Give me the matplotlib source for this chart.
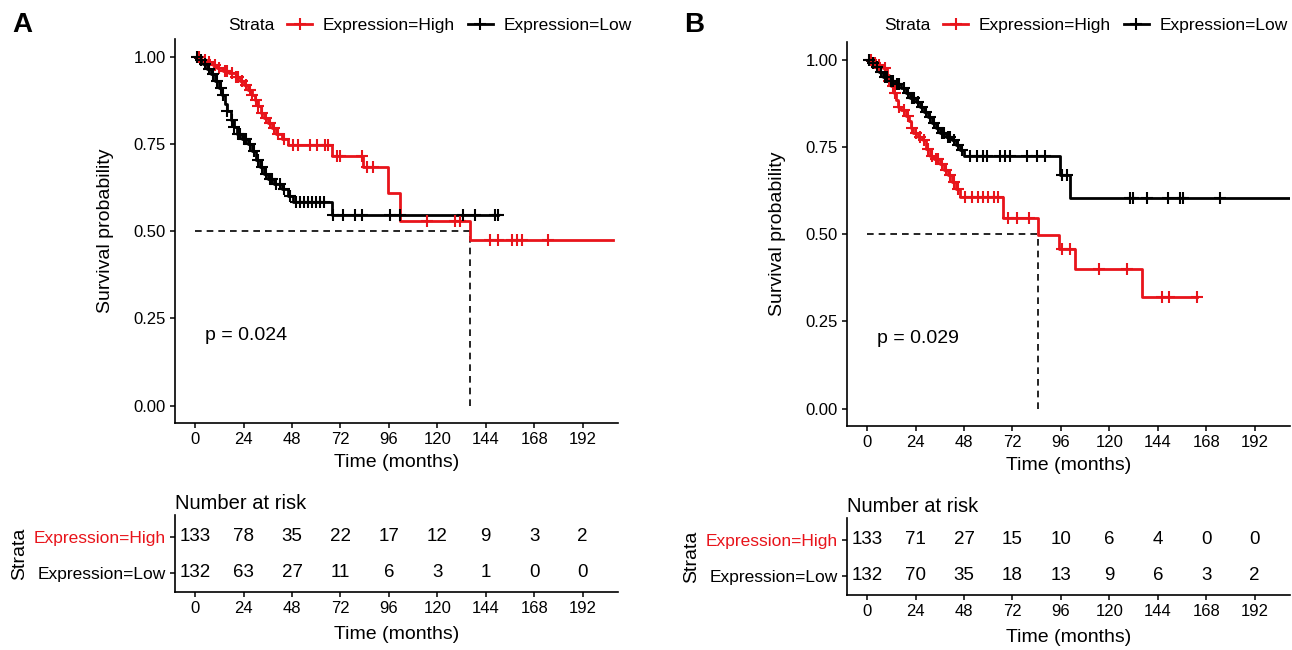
import numpy as np
import matplotlib.pyplot as plt
from matplotlib.lines import Line2D

plt.rcParams['font.family'] = ['Liberation Sans', 'DejaVu Sans']

RED = '#E8141B'
BLACK = '#000000'

time_ticks = [0, 24, 48, 72, 96, 120, 144, 168, 192]
surv_ticks = [0.00, 0.25, 0.50, 0.75, 1.00]
group_labels = ['Expression=High', 'Expression=Low']

# ---- panel A ----
a_high_t = [0, 3, 6, 9, 11, 14, 17, 20, 22, 24, 26, 28, 29.5, 31, 32.5, 34, 36, 38, 40, 43, 46,
            68, 83, 95.5, 101.5, 136]
a_high_s = [1.0, 0.992, 0.984, 0.975, 0.967, 0.96, 0.953, 0.943, 0.93, 0.92, 0.905, 0.89, 0.875,
            0.86, 0.84, 0.825, 0.81, 0.795, 0.78, 0.765, 0.747, 0.716, 0.685, 0.609, 0.53, 0.474]
a_high_end = 207
a_high_cens = [2, 5, 7, 10, 12, 15, 16, 18, 20, 21, 23, 25, 27, 28, 30, 31, 33, 35, 37, 39, 41, 44,
               48.5, 51, 57, 60.4, 64.4, 65.9, 70.3, 71.8, 82.7, 85.2, 88.2, 115, 128.8, 131.3,
               146, 150, 157, 159.5, 162, 175]

a_low_t = [0, 2, 4, 6, 8, 10, 12, 13.5, 15, 16, 17.5, 19, 20.5, 23, 26, 28, 30, 32, 34, 36, 39,
           43, 46, 48.5, 68]
a_low_s = [1.0, 0.99, 0.98, 0.965, 0.95, 0.93, 0.91, 0.89, 0.865, 0.845, 0.82, 0.80, 0.78, 0.765,
           0.75, 0.73, 0.705, 0.685, 0.665, 0.65, 0.635, 0.62, 0.60, 0.583, 0.546]
a_low_end = 150
a_low_cens = [1, 3, 5, 7, 9, 11, 13, 14, 16, 18, 19, 21, 22, 24, 25, 27, 29, 31, 33, 35, 37, 38,
              40, 42, 44, 47, 50, 52, 54, 56, 58, 60, 62, 64, 68.4, 73.3, 79.3, 82.7, 96.6, 101.6,
              132.8, 138.7, 148.6, 150]

a_risk_high = [133, 78, 35, 22, 17, 12, 9, 3, 2]
a_risk_low = [132, 63, 27, 11, 6, 3, 1, 0, 0]
a_median = 136
a_pval = 'p = 0.024'

# ---- panel B ----
b_high_t = [0, 3, 5, 8, 10, 11, 12, 13.5, 14.5, 15.5, 17, 19, 20.5, 21.5, 22.5, 25, 27.5, 29, 31,
            33, 36, 38, 40, 42, 44, 46, 67.5, 84.5, 95, 103, 136]
b_high_s = [1.0, 0.992, 0.985, 0.975, 0.955, 0.94, 0.925, 0.905, 0.885, 0.865, 0.855, 0.84, 0.825,
            0.805, 0.79, 0.78, 0.77, 0.745, 0.725, 0.715, 0.70, 0.685, 0.67, 0.65, 0.63, 0.607,
            0.546, 0.497, 0.457, 0.40, 0.32]
b_high_end = 163.5
b_high_cens = [2, 4, 6, 9, 11, 13, 14, 16, 18, 20, 22, 24, 26, 28, 30, 32, 34, 35, 37, 39, 41, 43,
               45, 48.5, 52, 55, 57.6, 60, 62.6, 65, 70, 74.2, 80, 96.5, 100.6, 114.7, 128.8,
               146.2, 149.5, 163.5]

b_low_t = [0, 2, 4, 6, 8, 11, 14, 17, 19, 21, 24, 26, 28, 30, 32, 34, 36, 39, 42, 44, 46, 48,
           95.5, 100.5]
b_low_s = [1.0, 0.99, 0.98, 0.965, 0.95, 0.94, 0.93, 0.92, 0.905, 0.89, 0.88, 0.865, 0.85, 0.835,
           0.82, 0.805, 0.79, 0.78, 0.77, 0.755, 0.74, 0.724, 0.67, 0.603]
b_low_end = 209.5
b_low_cens = [1, 3, 5, 7, 9, 10, 12, 13, 15, 16, 18, 20, 22, 23, 25, 27, 29, 31, 33, 35, 37, 38,
              40, 41, 43, 45, 47, 51, 54.4, 57.4, 59.4, 65.9, 68.4, 70.8, 79.3, 84.3, 88.2, 96.5,
              99, 130.4, 131.9, 138.8, 149.2, 155.2, 156.7, 175]

b_risk_high = [133, 71, 27, 15, 10, 6, 4, 0, 0]
b_risk_low = [132, 70, 35, 18, 13, 9, 6, 3, 2]
b_median = 84.5
b_pval = 'p = 0.029'

XLIM = (-10, 209.5)


def km_curve(ax, t, s, end, cens, color):
    tt = list(t) + [end]
    ss = list(s) + [s[-1]]
    ax.step(tt, ss, where='post', color=color, lw=2.0, zorder=3)
    idx = np.searchsorted(t, cens, side='right') - 1
    cy = np.array(s)[idx]
    ax.plot(cens, cy, '+', color=color, ms=8, mew=1.5, zorder=4)


def style_axes(ax):
    for side in ['top', 'right']:
        ax.spines[side].set_visible(False)
    for side in ['left', 'bottom']:
        ax.spines[side].set_linewidth(1.2)
    ax.tick_params(length=3.5, width=1.1, color='black', labelsize=12, pad=3)


def survival_panel(left, letter, curves, median, pval, risk_high, risk_low, handle_x, dy=0.0):
    w = 443 / 1292
    ax = fig.add_axes([left, 0.3492 - dy, w, 0.5903])
    ax.plot([0, median], [0.5, 0.5], ls=(0, (4, 3)), color='black', lw=1.2, zorder=2)
    ax.plot([median, median], [0, 0.5], ls=(0, (4, 3)), color='black', lw=1.2, zorder=2)
    for t, s, end, cens, col in curves:
        km_curve(ax, t, s, end, cens, col)
    ax.set_xlim(*XLIM)
    ax.set_ylim(-0.05, 1.05)
    ax.set_xticks(time_ticks)
    ax.set_yticks(surv_ticks)
    ax.set_yticklabels(['%.2f' % v for v in surv_ticks])
    style_axes(ax)
    ax.set_xlabel('Time (months)', fontsize=14, labelpad=5)
    ax.set_ylabel('Survival probability', fontsize=14, labelpad=14)
    ax.text(5, 0.2, pval, fontsize=14, ha='left', va='center')

    # risk table
    rt = fig.add_axes([left, 0.0892 - dy, w, 0.1185])
    rt.set_xlim(*XLIM)
    rt.set_ylim(0.47, 2.61)
    for x, nh, nl in zip(time_ticks, risk_high, risk_low):
        rt.text(x, 2, str(nh), ha='center', va='center', fontsize=13.5)
        rt.text(x, 1, str(nl), ha='center', va='center', fontsize=13.5)
    rt.set_xticks(time_ticks)
    rt.set_yticks([2, 1])
    rt.set_yticklabels(group_labels)
    style_axes(rt)
    rt.tick_params(axis='y', labelsize=12.5)
    rt.get_yticklabels()[0].set_color(RED)
    rt.get_yticklabels()[1].set_color(BLACK)
    rt.set_title('Number at risk', loc='left', fontsize=14.5, pad=4)
    rt.set_xlabel('Time (months)', fontsize=14, labelpad=7)
    rt.set_ylabel('Strata', fontsize=14, labelpad=4)

    # panel letter and legend
    fig.text(left - 163 / 1292, 1 - 25 / 650, letter, fontsize=20, fontweight='bold',
             ha='left', va='center')
    fig.text(handle_x - 12 / 1292, 1 - 25 / 650, 'Strata', fontsize=12.5, ha='right', va='center')
    handles = [Line2D([], [], color=RED, lw=2.0, marker='+', ms=8, mew=1.5),
               Line2D([], [], color=BLACK, lw=2.0, marker='+', ms=8, mew=1.5)]
    fig.legend(handles, group_labels, loc='center left', bbox_to_anchor=(handle_x, 1 - 25 / 650),
               ncol=2, frameon=False, fontsize=12.5, handlelength=1.45, handletextpad=0.6,
               columnspacing=0.75, borderpad=0, borderaxespad=0)
    return ax, rt


fig = plt.figure(figsize=(12.92, 6.5), dpi=100)

survival_panel(175 / 1292, 'A',
               [(a_high_t, a_high_s, a_high_end, a_high_cens, RED),
                (a_low_t, a_low_s, a_low_end, a_low_cens, BLACK)],
               a_median, a_pval, a_risk_high, a_risk_low, 287 / 1292)

survival_panel(847 / 1292, 'B',
               [(b_high_t, b_high_s, b_high_end, b_high_cens, RED),
                (b_low_t, b_low_s, b_low_end, b_low_cens, BLACK)],
               b_median, b_pval, b_risk_high, b_risk_low, 943 / 1292, dy=3 / 650)

fig.savefig('out.png', dpi=100)
